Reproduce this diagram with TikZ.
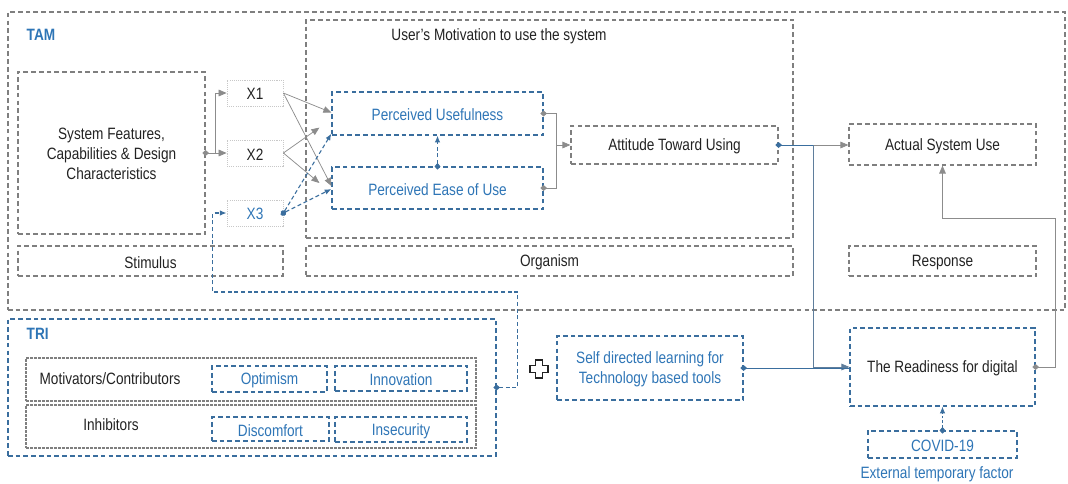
\documentclass[tikz,border=0pt]{standalone}
\usepackage{fontspec}
\setmainfont{Liberation Sans}[FakeStretch=0.83]
\usetikzlibrary{arrows.meta,fit,calc}
\definecolor{dgray}{HTML}{7F7F7F}
\definecolor{lgray}{HTML}{8C8C8C}
\definecolor{xgray}{HTML}{C8C8C8}
\definecolor{bline}{HTML}{3A6E9E}
\definecolor{btext}{HTML}{2E75B6}
\definecolor{slate}{HTML}{5F7E9C}
\definecolor{ink}{HTML}{222222}
\tikzset{
  gbox/.style={draw=dgray, line width=0.9pt, dash pattern=on 3.5pt off 2.3pt, inner sep=0pt},
  bbox/.style={draw=bline, line width=0.9pt, dash pattern=on 3.5pt off 2.3pt, inner sep=0pt},
  xbox/.style={draw=xgray, line width=0.6pt, dash pattern=on 0.8pt off 0.8pt, inner sep=0pt},
  sbox/.style={draw=dgray, line width=0.8pt, dash pattern=on 2pt off 1pt, inner sep=0pt},
  txt/.style={label={[align=center, text=ink, yshift=-1pt]center:#1}},
  btxt/.style={label={[align=center, text=btext, yshift=-1pt]center:#1}},
  conn/.style={draw=lgray, line width=0.55pt},
  bconn/.style={draw=bline, line width=0.8pt, dash pattern=on 3pt off 2pt},
  sconn/.style={draw=slate, line width=0.6pt},
  tri/.style={-{Triangle[length=6pt,width=5pt]}},
  dnone/.style={{Diamond[length=5pt,width=4.5pt]}-, shorten <=-2.5pt},
  dtri/.style={{Diamond[length=5pt,width=4.5pt]}-{Triangle[length=6pt,width=5pt]}, shorten <=-2.5pt},
  dbtip/.style={{Diamond[length=5pt,width=4.5pt]}-{Latex[length=5pt,width=4pt]}, shorten <=-2.5pt},
  blab/.style={text=btext, font=\bfseries},
  plain/.style={text=ink},
}
\begin{document}
\fontsize{12.3}{15}\selectfont
\begin{tikzpicture}[x=0.75pt, y=-0.75pt]
\useasboundingbox (0,0) rectangle (1068,483);

% ---------- TAM frame ----------
\node[gbox, fit={(8,12)(1065,310)}] (tam) {};
\node[blab, anchor=west] (tamlbl) at (21,35) {TAM};
\node[gbox, fit={(306,20)(793,238)}] (org) {};
\node[plain] (motlbl) at (499,36) {User’s Motivation to use the system};

\node[gbox, fit={(18,72)(205,234)},
      txt={System Features,\\Capabilities \& Design\\Characteristics}] (sf) {};

\node[xbox, fit={(227,80)(283,106)}, txt=X1] (x1) {};
\node[xbox, fit={(227,140)(283,166)}, txt=X2] (x2) {};
\node[xbox, fit={(227,200)(283,226)}, btxt=X3] (x3) {};

\node[bbox, fit={(332,92)(543,135)}, btxt={Perceived Usefulness}] (pu) {};
\node[bbox, fit={(332,167)(543,209)}, btxt={Perceived Ease of Use}] (pe) {};
\node[gbox, fit={(571,126)(778,164)}, txt={Attitude Toward Using}] (att) {};
\node[gbox, fit={(849,124)(1036,165)}, txt={Actual System Use}] (asu) {};

\node[gbox, fit={(18,246)(283,276)}, txt=Stimulus] (stim) {};
\node[gbox, fit={(306,246)(793,276)}, txt=Organism] (orgl) {};
\node[gbox, fit={(849,246)(1036,276)}, txt=Response] (resp) {};

% ---------- TRI frame ----------
\node[bbox, fit={(8,319)(496,456)}] (tri) {};
\node[blab, anchor=west] (trilbl) at (21,334) {TRI};
\node[sbox, fit={(26,358)(476,401)}] (motiv) {};
\node[plain] (motivlbl) at (110,379) {Motivators/Contributors};
\node[sbox, fit={(26,405)(476,448)}] (inhib) {};
\node[plain] (inhiblbl) at (111,425) {Inhibitors};
\node[bbox, line width=0.8pt, fit={(212,366)(327,392)}, btxt=Optimism] (opt) {};
\node[bbox, line width=0.8pt, fit={(335,366)(467,391)}, btxt=Innovation] (inn) {};
\node[bbox, line width=0.8pt, fit={(212,417)(329,441)}, btxt=Discomfort] (dis) {};
\node[bbox, line width=0.8pt, fit={(335,417)(467,442)}, btxt=Insecurity] (ins) {};

% plus sign between TRI and self directed learning
\draw[line width=0.9pt, draw=ink, shift={(539,369)}]
  (-3.5,-9) -- (3.5,-9) -- (3.5,-3.5) -- (9,-3.5) -- (9,3.5) -- (3.5,3.5)
  -- (3.5,9) -- (-3.5,9) -- (-3.5,3.5) -- (-9,3.5) -- (-9,-3.5) -- (-3.5,-3.5) -- cycle;

\node[bbox, fit={(557,336)(743,400)},
      btxt={Self directed learning for\\Technology based tools}] (sdl) {};
\node[bbox, fit={(850,328)(1035,406)}, txt={The Readiness for digital}] (rd) {};
\node[bbox, fit={(868,431)(1017,458)}, btxt={COVID-19}] (cov) {};
\node[text=btext] (extlbl) at (937,474) {External temporary factor};

% ---------- connectors ----------
\coordinate (sfj) at ($(sf.east)+(10,0)$);
\draw[conn, dnone] (sf.east) -- (sfj);
\draw[conn, tri] (sfj) |- (x1.west);
\draw[conn, tri] (sfj) -- (x2.west);

\draw[conn, tri] (x1.east) -- ($(pu.west)+(0,-1)$);
\draw[conn, tri] (x1.east) -- ($(pe.west)+(0,-2)$);
\draw[conn, tri] (x2.east) -- ($(pu.south west)+(-12,-8)$);
\draw[conn, tri] (x2.east) -- ($(pe.west)+(-12,-5)$);

\draw[bconn, dbtip] (x3.east) -- ($(pu.south west)+(0,-2)$);
\draw[bconn, dbtip] (x3.east) -- ($(pe.west)+(0,1)$);
\draw[bconn, dbtip] (pe.north) -- (pu.south);

\coordinate (attj) at ($(att.west)+(-14,0)$);
\draw[conn, dnone] (pu.east) -| (attj);
\draw[conn, dnone] (pe.east) -| (attj);
\draw[conn, tri] (attj) -- (att.west);

\coordinate (splitj) at ($(att.east)+(35,0)$);
\draw[sconn, draw=bline, dnone] (att.east) -- (splitj);
\draw[conn, tri] (splitj) -- (asu.west |- splitj);
\draw[sconn, -{Triangle[length=6pt,width=5pt]}] (splitj) |- (rd.west);

\draw[sconn, draw=bline, dnone] (sdl.east) -- (sdl.east -| rd.west);

\draw[conn, dtri] (rd.east) -- ++(20,0) |- ($(asu.south)+(0,53)$) -- (asu.south);
\draw[bconn, line width=0.6pt, dash pattern=on 2pt off 1.5pt, dbtip] (cov.north) -- (rd.south);

\draw[bconn, dbtip] (tri.east) -- ++(21,0) |- ($(x3.west)+(-14,79)$) |- (x3.west);
\end{tikzpicture}
\end{document}
